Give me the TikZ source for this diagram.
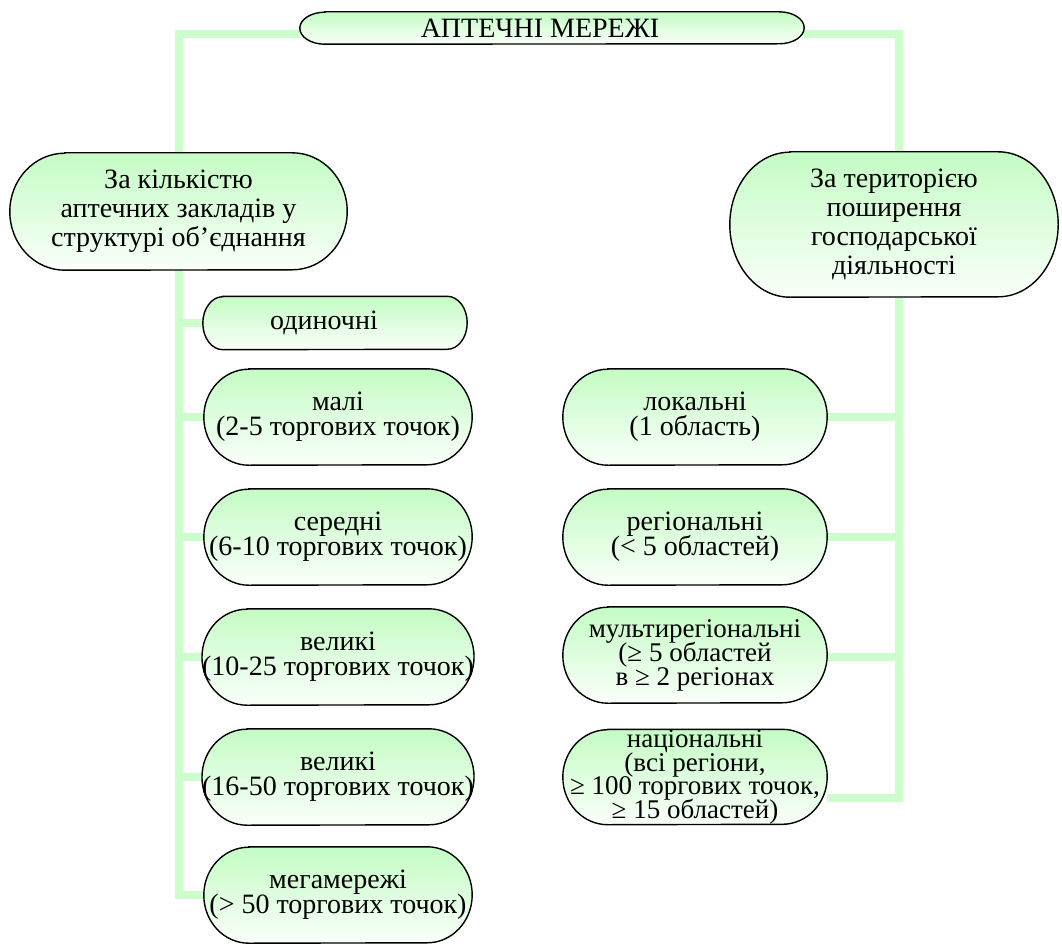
\documentclass[tikz,border=0pt]{standalone}
\usepackage{fontspec}
\setmainfont{Liberation Serif}
\usetikzlibrary{calc}

\pgfdeclarelayer{paper}
\pgfdeclarelayer{links}
\pgfdeclarelayer{shells}
\pgfsetlayers{paper,links,shells,main}

\definecolor{linkgreen}{RGB}{204,255,204}
\definecolor{shelltop}{RGB}{196,252,196}
\definecolor{shellbottom}{RGB}{250,255,250}

\tikzset{
  link/.style={draw=linkgreen, line width=8pt},
  shell/.style={draw=black, line width=1.4pt, top color=shelltop, bottom color=shellbottom},
  txt/.style={rectangle, inner sep=0pt, align=center,
    font={\fontsize{28}{#1}\selectfont\lineskiplimit=-60pt}},
  txt/.default=25,
  tighttxt/.style={rectangle, inner sep=0pt, align=center,
    font={\fontsize{27}{#1}\selectfont\lineskiplimit=-60pt}},
}

% rounded outline around a named text node: node, end x radius, end y radius
\newcommand\shellpath[3]{%
  \begin{pgfonlayer}{shells}
    \path[shell] ([xshift=#2]#1.north west) -- ([xshift=-#2]#1.north east)
      arc[start angle=90, end angle=-90, x radius=#2, y radius=#3]
      -- ([xshift=#2]#1.south west)
      arc[start angle=270, end angle=90, x radius=#2, y radius=#3] -- cycle;
  \end{pgfonlayer}}

\begin{document}
\begin{tikzpicture}[x=1pt, y=1pt]
\useasboundingbox (0,0) rectangle (1062,-944);
\begin{pgfonlayer}{paper}
  \fill[white] (0,0) rectangle (1062,-944);
\end{pgfonlayer}

% root
\node[txt, minimum width=504pt, minimum height=32pt] (top) at (552,-28)
  {\hspace*{-24pt}АПТЕЧНІ МЕРЕЖІ};
\shellpath{top}{25pt}{16pt}

% two criteria
\node[txt=29, minimum width=337pt, minimum height=117pt] (lbig) at (178.5,-211.5)
  {За кількістю\\аптечних закладів у\\структурі об’єднання};
\shellpath{lbig}{55pt}{58.5pt}

\node[txt=29, minimum width=328pt, minimum height=145pt] (rbig) at (894,-224.5)
  {За територією\\поширення\\господарської\\діяльності};
\shellpath{rbig}{60pt}{72.5pt}

% by number of pharmacies
\node[txt, minimum width=264pt, minimum height=53pt] (one) at (335,-323)
  {\hspace*{-22pt}одиночні};
\shellpath{one}{20pt}{26.5pt}

\node[txt, minimum width=268pt, minimum height=96pt] (small) at (338,-417)
  {малі\\(2-5 торгових точок)};
\shellpath{small}{45pt}{48pt}

\node[txt, minimum width=268pt, minimum height=96pt] (mid) at (338,-537)
  {середні\\(6-10 торгових точок)};
\shellpath{mid}{45pt}{48pt}

\node[txt, minimum width=268pt, minimum height=96pt] (big) at (338,-657)
  {великі\\(10-25 торгових точок)};
\shellpath{big}{45pt}{48pt}

\node[txt, minimum width=268pt, minimum height=96pt] (large) at (338,-777)
  {великі\\(16-50 торгових точок)};
\shellpath{large}{45pt}{48pt}

\node[txt, minimum width=268pt, minimum height=96pt] (mega) at (338,-895)
  {мегамережі\\(> 50 торгових точок)};
\shellpath{mega}{45pt}{48pt}

% by territory
\node[txt, minimum width=264pt, minimum height=96pt] (loc) at (695,-417)
  {локальні\\(1 область)};
\shellpath{loc}{45pt}{48pt}

\node[txt, minimum width=264pt, minimum height=96pt] (reg) at (695,-537)
  {регіональні\\(< 5 областей)};
\shellpath{reg}{45pt}{48pt}

\node[tighttxt=24, minimum width=264pt, minimum height=96pt] (multi) at (695,-655)
  {мультирегіональні\\(≥ 5 областей\\в ≥ 2 регіонах};
\shellpath{multi}{45pt}{48pt}

\node[tighttxt=23.5, minimum width=264pt, minimum height=95pt] (nat) at (695,-777)
  {національні\\(всі регіони,\\≥ 100 торгових точок,\\≥ 15 областей)};
\shellpath{nat}{45pt}{47.5pt}

% connectors
\begin{pgfonlayer}{links}
  \draw[link] ([yshift=-6pt]top.west) -| (lbig.north);
  \draw[link] ([yshift=-6pt]top.east) -| ([xshift=5pt]rbig.north);
  \foreach \n in {one,small,mid,big,large,mega}
    \draw[link] (lbig.south) |- (\n.west);
  \foreach \n in {loc,reg}
    \draw[link] ([xshift=5pt]rbig.south) |- (\n.east);
  \draw[link] ([xshift=5pt]rbig.south) |- ([yshift=-2pt]multi.east);
  \draw[link] ([xshift=5pt]rbig.south) |- ([yshift=-21pt]nat.east);
\end{pgfonlayer}
\end{tikzpicture}
\end{document}
